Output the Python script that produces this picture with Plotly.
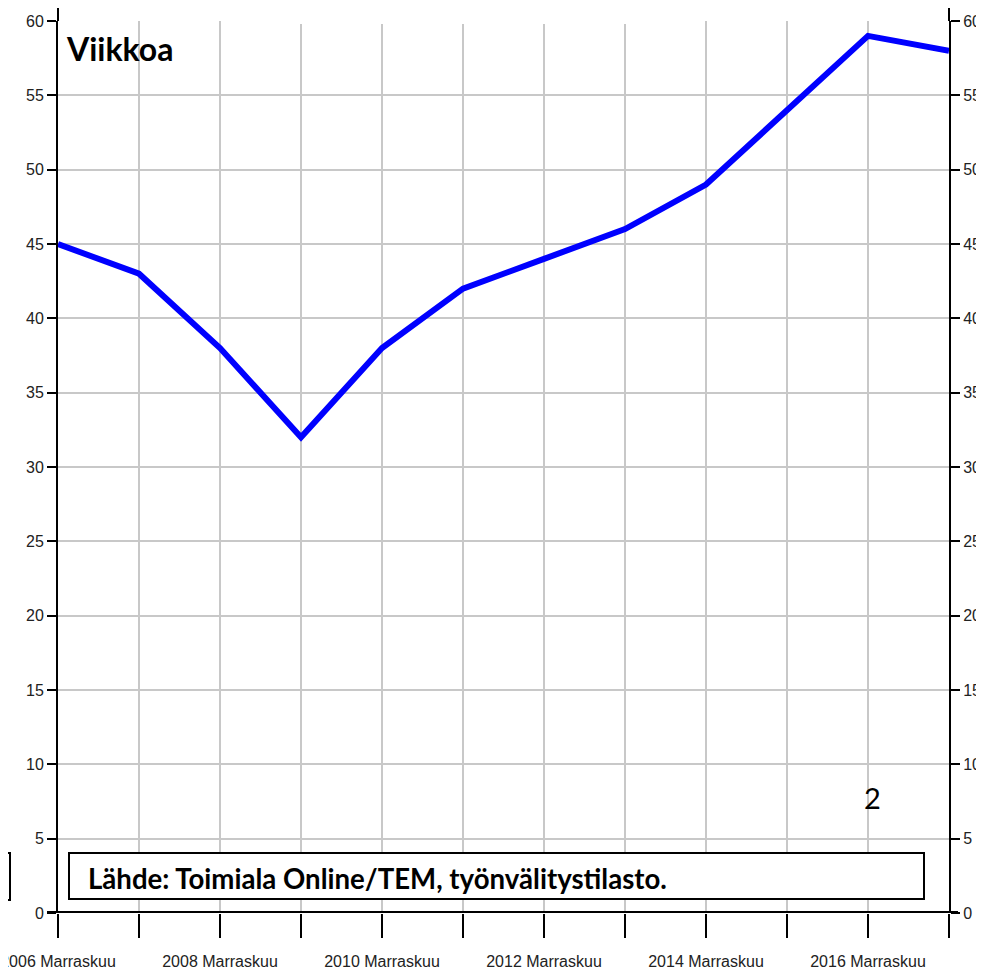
import plotly.graph_objects as go

years = [2006, 2007, 2008, 2009, 2010, 2011, 2012, 2013, 2014, 2015, 2016, 2017]
weeks = [45, 43, 38, 32, 38, 42, 44, 46, 49, 54, 59, 58]
tick_labels = [f"{y} Marraskuu" if y % 2 == 0 else "" for y in years]
y_ticks = list(range(0, 61, 5))

# the page body has an 8px margin, so the figure starts at page pixel 8
OFF = 8
W, H = 984 - OFF, 979 - OFF
# plot area, page pixels
L, R, T, B = 58, 949, 21, 913


def px(x):
    return (x - L) / (R - L)


def py(y):
    return (B - y) / (B - T)


tick_font = dict(family="Liberation Sans, Arial, sans-serif", size=16, color="#222")

fig = go.Figure()
fig.add_trace(go.Scatter(x=years, y=weeks, mode="lines",
                         line=dict(color="#0000ff", width=6),
                         showlegend=False))
# copy on the right axis so that it gets drawn
fig.add_trace(go.Scatter(x=years, y=weeks, mode="lines", yaxis="y2",
                         line=dict(color="rgba(0,0,0,0)", width=0),
                         hoverinfo="skip", showlegend=False))

shapes = [
    # white patch on top of the grid
    dict(type="rect", xref="paper", yref="paper", x0=px(293), x1=px(692), y0=py(24), y1=py(0),
         fillcolor="white", line=dict(width=0), layer="above"),
    # top frame
    dict(type="rect", xref="paper", yref="paper", x0=px(23), x1=px(962), y0=py(6), y1=py(-20),
         fillcolor="white", line=dict(color="black", width=2), layer="above"),
    # source box
    dict(type="rect", xref="paper", yref="paper", x0=px(69), x1=px(924), y0=py(899), y1=py(853),
         fillcolor="white", line=dict(color="black", width=2), layer="above"),
    # stray box at left edge
    dict(type="rect", xref="paper", yref="paper", x0=px(-10), x1=px(10), y0=py(900), y1=py(853),
         fillcolor="rgba(0,0,0,0)", line=dict(color="black", width=2), layer="above"),
    # thick x axis line
    dict(type="line", xref="paper", yref="y", x0=px(47), x1=px(958), y0=0, y1=0,
         line=dict(color="black", width=4), layer="above"),
    # y axis lines reaching up to the frame
    dict(type="line", xref="paper", yref="paper", x0=0, x1=0, y0=1, y1=py(6),
         line=dict(color="black", width=2), layer="above"),
    dict(type="line", xref="paper", yref="paper", x0=1, x1=1, y0=1, y1=py(6),
         line=dict(color="black", width=2), layer="above"),
]

annotations = [
    dict(text="<b>Viikkoa</b>", xref="paper", yref="paper", x=px(64), y=py(48),
         xanchor="left", yanchor="middle", showarrow=False,
         font=dict(family="Lato, sans-serif", size=32, color="black")),
    dict(text="<b>Lähde: Toimiala Online/TEM, työnvälitystilasto.</b>", xref="paper", yref="paper",
         x=px(86), y=py(878), xanchor="left", yanchor="middle", showarrow=False,
         font=dict(family="Lato, sans-serif", size=27.6, color="black")),
    dict(text="2", xref="paper", yref="paper", x=px(872), y=py(797),
         xanchor="center", yanchor="middle", showarrow=False,
         font=dict(family="Lato, sans-serif", size=29, color="black")),
]

fig.update_layout(
    width=W, height=H,
    margin=dict(l=L - OFF, r=W - (R - OFF), t=T - OFF, b=H - (B - OFF), pad=0),
    paper_bgcolor="white", plot_bgcolor="white",
    xaxis=dict(range=[2006, 2017], tickvals=years, ticktext=tick_labels,
               showgrid=True, gridcolor="#c8c8c8", gridwidth=2,
               ticks="outside", ticklen=24, tickwidth=2, tickcolor="black",
               showline=False, zeroline=False, tickfont=tick_font, tickangle=0,
               ticklabelstandoff=10, automargin=False, ticklabeloverflow="allow"),
    yaxis=dict(range=[0, 60], tickvals=y_ticks, showgrid=True, gridcolor="#c8c8c8", gridwidth=2,
               ticks="outside", ticklen=9, tickwidth=2, tickcolor="black",
               showline=True, linecolor="black", linewidth=2, zeroline=False,
               tickfont=tick_font, automargin=False, ticklabeloverflow="allow"),
    yaxis2=dict(range=[0, 60], tickvals=y_ticks, overlaying="y", side="right", showgrid=False,
                ticks="outside", ticklen=9, tickwidth=2, tickcolor="black",
                showline=True, linecolor="black", linewidth=2, zeroline=False,
                tickfont=tick_font, automargin=False, ticklabeloverflow="allow"),
    shapes=shapes,
    annotations=annotations,
)

fig.write_html("out.html")
